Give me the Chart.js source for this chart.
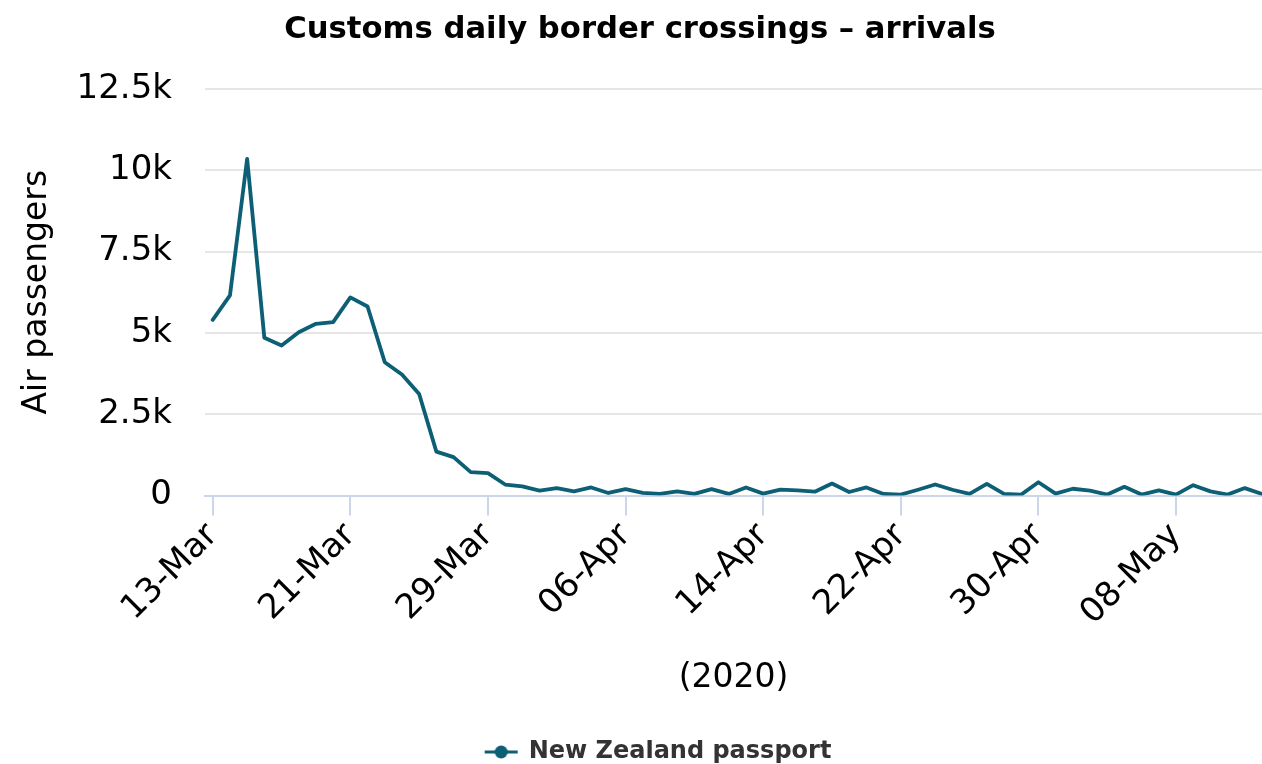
<!DOCTYPE html>
<html>
<head>
<meta charset="utf-8">
<script src="https://cdn.jsdelivr.net/npm/chart.js@4"></script>
<style>
  html, body { margin: 0; padding: 0; background: #fff; }
  #wrap { width: 1262px; height: 764px; position: relative; }
</style>
</head>
<body>
<div id="wrap"><canvas id="grafico"></canvas></div>
<script>
// fechas: 13-Mar a 13-May 2020
const fechas = [
    '13-Mar','14-Mar','15-Mar','16-Mar','17-Mar','18-Mar','19-Mar','20-Mar','21-Mar','22-Mar',
    '23-Mar','24-Mar','25-Mar','26-Mar','27-Mar','28-Mar','29-Mar','30-Mar','31-Mar',
    '01-Apr','02-Apr','03-Apr','04-Apr','05-Apr','06-Apr','07-Apr','08-Apr','09-Apr','10-Apr',
    '11-Apr','12-Apr','13-Apr','14-Apr','15-Apr','16-Apr','17-Apr','18-Apr','19-Apr','20-Apr',
    '21-Apr','22-Apr','23-Apr','24-Apr','25-Apr','26-Apr','27-Apr','28-Apr','29-Apr','30-Apr',
    '01-May','02-May','03-May','04-May','05-May','06-May','07-May','08-May','09-May','10-May',
    '11-May','12-May','13-May'
];

const pasaporteNZ = [
    5400, 6150, 10350, 4850, 4610, 5020, 5280, 5330, 6090, 5810,
    4100, 3720, 3120, 1350, 1180, 720, 690, 340, 280,
    150, 230, 130, 250, 80, 200, 80, 50, 130, 50,
    200, 50, 250, 60, 180, 160, 120, 370, 110, 250,
    50, 30, 180, 340, 180, 50, 360, 50, 30, 410,
    60, 210, 150, 30, 270, 30, 160, 30, 320, 130,
    30, 230, 50
];

const ticksY = [0, 2500, 5000, 7500, 10000, 12500];

const colorLinea = '#0d5f75';
const fuente = 'DejaVu Sans';

// icono de leyenda: linea con circulo (desplazado a la derecha dentro del lienzo)
function iconoLeyenda() {
    const c = document.createElement('canvas');
    c.width = 88; c.height = 16;
    const g = c.getContext('2d');
    g.strokeStyle = colorLinea;
    g.lineWidth = 3;
    g.beginPath(); g.moveTo(46, 8); g.lineTo(79, 8); g.stroke();
    g.fillStyle = colorLinea;
    g.beginPath(); g.arc(62.5, 8, 6.5, 0, Math.PI * 2); g.fill();
    return c;
}

const puntos = pasaporteNZ.map((v, i) => ({ x: i, y: v }));

new Chart(document.getElementById('grafico'), {
    type: 'line',
    data: {
        datasets: [{
            label: 'New Zealand passport',
            data: puntos,
            borderColor: colorLinea,
            backgroundColor: colorLinea,
            borderWidth: 3.8,
            borderJoinStyle: 'round',
            borderCapStyle: 'round',
            pointRadius: 0,
            tension: 0
        }]
    },
    options: {
        responsive: true,
        maintainAspectRatio: false,
        animation: false,
        layout: { padding: { left: 18, right: 0, top: 4, bottom: -10 } },
        scales: {
            x: {
                type: 'linear',
                min: -0.45,
                max: 61,
                afterBuildTicks: (scale) => {
                    scale.ticks = [];
                    for (let i = 0; i < fechas.length; i += 8) scale.ticks.push({ value: i });
                },
                afterFit: (scale) => {
                    scale.paddingLeft = 0;
                    scale.paddingRight = 0;
                },
                ticks: {
                    autoSkip: false,
                    maxRotation: 45,
                    minRotation: 45,
                    color: '#000',
                    padding: 0,
                    font: { family: fuente, size: 34 },
                    callback: (v) => fechas[v]
                },
                grid: {
                    drawOnChartArea: false,
                    drawTicks: true,
                    tickLength: 20,
                    color: '#ccd6eb',
                    lineWidth: 2
                },
                border: { color: '#ccd6eb', width: 2 },
                title: {
                    display: true,
                    text: '(2020)',
                    color: '#000',
                    font: { family: fuente, size: 33 },
                    padding: { top: 25, bottom: 42 }
                }
            },
            y: {
                min: 0,
                max: 12500,
                afterBuildTicks: (scale) => {
                    scale.ticks = ticksY.map(v => ({ value: v }));
                },
                afterFit: (scale) => {
                    // ancho fijo del eje y
                    scale.width = 187;
                },
                ticks: {
                    color: '#000',
                    padding: 33,
                    font: { family: fuente, size: 34 },
                    callback: (v) => v === 0 ? '0' : (v / 1000) + 'k'
                },
                grid: { color: '#e6e6e6', lineWidth: 2, drawTicks: false },
                border: { display: false },
                title: {
                    display: true,
                    text: 'Air passengers',
                    color: '#000',
                    font: { family: fuente, size: 33 },
                    padding: { top: 0, bottom: 18 }
                }
            }
        },
        plugins: {
            title: {
                display: true,
                text: 'Customs daily border crossings – arrivals',
                color: '#000',
                font: { family: fuente, size: 30.7, weight: 'bold' },
                padding: { top: 8, bottom: 40 }
            },
            legend: {
                position: 'bottom',
                labels: {
                    color: '#333',
                    padding: 0,
                    pointStyleWidth: 68,
                    font: { family: fuente, size: 24, weight: 'bold' },
                    usePointStyle: true,
                    generateLabels: (chart) => {
                        const base = Chart.defaults.plugins.legend.labels.generateLabels(chart);
                        base.forEach(l => { l.pointStyle = iconoLeyenda(); l.fontColor = '#333'; });
                        return base;
                    }
                }
            },
            tooltip: { enabled: false }
        }
    }
});
</script>
</body>
</html>
